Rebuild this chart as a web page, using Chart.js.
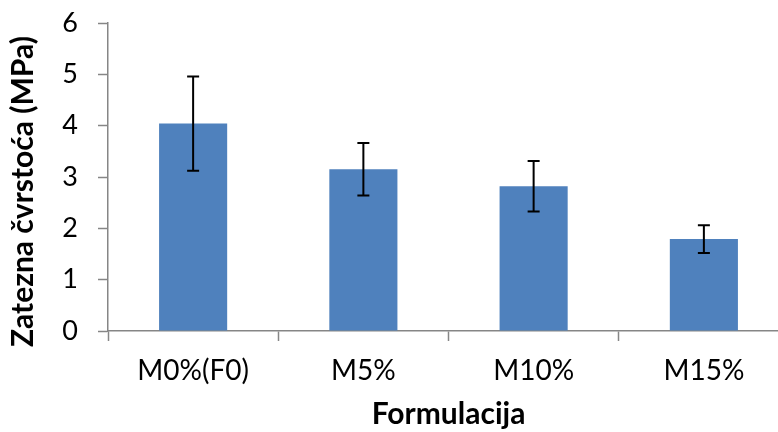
<!DOCTYPE html>
<html>
<head>
<meta charset="utf-8">
<script src="https://cdn.jsdelivr.net/npm/chart.js@4"></script>
<style>
  html, body { margin: 0; padding: 0; background: #fff; overflow: hidden; }
  #wrap { position: absolute; left: 0; top: 0; width: 800px; height: 432px; }
</style>
</head>
<body>
<div id="wrap"><canvas id="c" width="800" height="432"></canvas></div>
<script>
// Tensile strength per formulation, with standard deviation
const categories = ['M0%(F0)', 'M5%', 'M10%', 'M15%'];
const strength = [4.04, 3.15, 2.82, 1.79];
const deviation = [0.92, 0.51, 0.49, 0.27];
const yTicks = [0, 1, 2, 3, 4, 5, 6];

const AXIS_GREY = '#868686';
const FONT = 'Lato, "Open Sans", sans-serif';

// Draws symmetric error bars on top of each bar
const errorBars = {
  id: 'errorBars',
  afterDatasetsDraw(chart) {
    const ctx = chart.ctx;
    const y = chart.scales.y;
    const meta = chart.getDatasetMeta(0);
    ctx.save();
    ctx.strokeStyle = '#000';
    ctx.lineWidth = 2;
    meta.data.forEach((bar, i) => {
      const x = bar.x;
      const hi = y.getPixelForValue(strength[i] + deviation[i]);
      const lo = y.getPixelForValue(strength[i] - deviation[i]);
      const cap = 6;
      ctx.beginPath();
      ctx.moveTo(x, hi); ctx.lineTo(x, lo);
      ctx.moveTo(x - cap, hi); ctx.lineTo(x + cap, hi);
      ctx.moveTo(x - cap, lo); ctx.lineTo(x + cap, lo);
      ctx.stroke();
    });
    ctx.restore();
  }
};

new Chart(document.getElementById('c'), {
  type: 'bar',
  data: {
    labels: categories,
    datasets: [{
      data: strength,
      backgroundColor: '#4F81BD',
      borderWidth: 0,
      categoryPercentage: 0.4,
      barPercentage: 1.0
    }]
  },
  options: {
    responsive: false,
    animation: false,
    devicePixelRatio: 1,
    layout: { padding: { top: 23, right: 11, left: 0, bottom: 0 } },
    plugins: { legend: { display: false }, tooltip: { enabled: false } },
    scales: {
      x: {
        offset: true,
        grid: {
          offset: true,
          drawOnChartArea: false,
          drawTicks: true,
          tickLength: 10,
          tickColor: AXIS_GREY,
          tickWidth: 1.5
        },
        border: { color: AXIS_GREY, width: 1.5 },
        ticks: {
          color: '#000',
          font: { family: FONT, size: 28 },
          padding: 13,
          maxRotation: 0
        },
        title: {
          display: true,
          text: 'Formulacija',
          color: '#000',
          font: { family: FONT, size: 30, weight: 'bold' },
          padding: { top: 0, bottom: 0 }
        },
        afterFit(scale) {
          scale.height = 101;
          scale.paddingLeft = 0;
          scale.paddingRight = 0;
        }
      },
      y: {
        min: yTicks[0],
        max: yTicks[yTicks.length - 1],
        afterBuildTicks(scale) { scale.ticks = yTicks.map(v => ({ value: v })); },
        grid: {
          drawOnChartArea: false,
          drawTicks: true,
          tickLength: 10,
          tickColor: AXIS_GREY,
          tickWidth: 1.5
        },
        border: { color: AXIS_GREY, width: 1.5 },
        ticks: {
          color: '#000',
          font: { family: FONT, size: 27 },
          padding: 20
        },
        title: {
          display: true,
          text: 'Zatezna čvrstoća (MPa)    ',
          color: '#000',
          font: { family: FONT, size: 30, weight: 'bold' },
          padding: { top: 5, bottom: 0 }
        },
        afterFit(scale) {
          scale.width = 108;
          scale.paddingTop = 0;
          scale.paddingBottom = 0;
        }
      }
    }
  },
  plugins: [errorBars]
});
</script>
</body>
</html>
